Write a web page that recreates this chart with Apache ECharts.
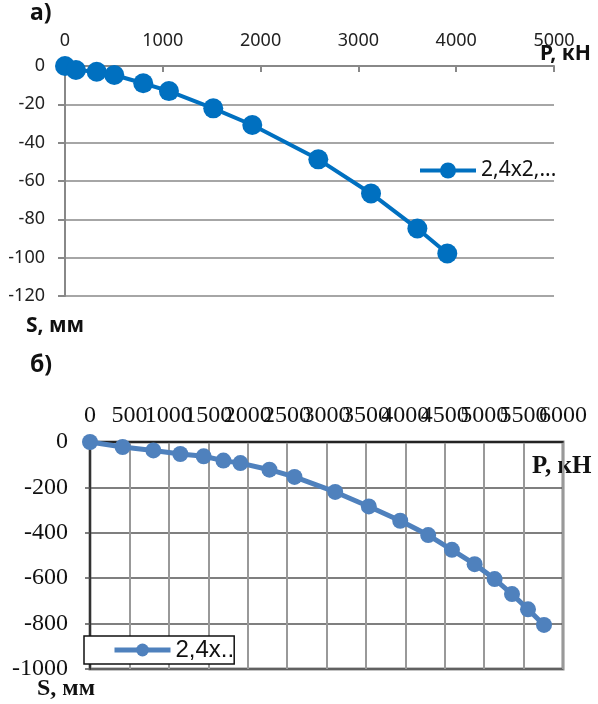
<!DOCTYPE html>
<html>
<head>
<meta charset="utf-8">
<script src="https://cdn.jsdelivr.net/npm/echarts@6/dist/echarts.min.js"></script>
<style>html,body{margin:0;padding:0;background:#fff}#c{width:598px;height:704px}</style>
</head>
<body>
<div id="c"></div>
<script>
// Chart a)
const topName = '2,4x2,...';
const topP = [0, 112, 324, 504, 800, 1063, 1516, 1915, 2590, 3129, 3603, 3909];
const topS = [0, -2.1, -3, -4.7, -9, -13.1, -22.1, -30.8, -48.7, -66.5, -84.8, -97.8];
// Chart б)
const botName = '2,4x..';
const botP = [0, 414, 804, 1146, 1442, 1692, 1908, 2276, 2594, 3110, 3537, 3935, 4290, 4591, 4879, 5133, 5353, 5556, 5759];
const botS = [0, -22, -37, -53, -63, -82, -93, -122, -154, -220, -284, -347, -410, -475, -538, -604, -670, -737, -806];

const topData = topP.map((p, i) => [p, topS[i]]);
const botData = botP.map((p, i) => [p, botS[i]]);

const sans = '"Noto Sans", "Open Sans", sans-serif';
const serif = '"Liberation Serif", "DejaVu Serif", serif';
const plain = v => String(v);

const chart = echarts.init(document.getElementById('c'), null, {renderer: 'canvas'});
chart.setOption({
  animation: false,
  backgroundColor: '#fff',
  grid: [
    {left: 65, top: 66, width: 489, height: 230, show: false},
    {left: 90, top: 442, width: 473, height: 227, show: true, borderColor: '#888', borderWidth: 3, backgroundColor: 'transparent'}
  ],
  xAxis: [
    {
      gridIndex: 0, type: 'value', position: 'top', min: 0, max: 5000, interval: 1000,
      axisLine: {show: true, onZero: false, lineStyle: {color: '#888', width: 2}},
      axisTick: {show: true, inside: true, length: 6, lineStyle: {color: '#888', width: 2}},
      splitLine: {show: false},
      axisLabel: {color: '#222', fontFamily: sans, fontSize: 18, margin: 16, formatter: plain, showMaxLabel: true}
    },
    {
      // thousands labels + axis line
      gridIndex: 1, type: 'value', position: 'top', min: 0, max: 6000, interval: 1000,
      axisLine: {show: true, onZero: false, lineStyle: {color: '#111', width: 1.5}},
      axisTick: {show: false},
      splitLine: {show: false},
      axisLabel: {color: '#111', fontFamily: serif, fontSize: 24, margin: 14, formatter: plain,
                  showMaxLabel: true, showMinLabel: true}
    },
    {
      // half-thousand labels + vertical grid
      gridIndex: 1, type: 'value', position: 'top', min: 0, max: 6000, interval: 500,
      axisLine: {show: false},
      axisTick: {show: false},
      splitLine: {show: true, lineStyle: {color: '#999', width: 2}},
      axisLabel: {color: '#111', fontFamily: serif, fontSize: 24, margin: 14,
                  formatter: v => (v % 1000 === 0 ? '' : String(v)), showMaxLabel: true, showMinLabel: true}
    }
  ],
  yAxis: [
    {
      gridIndex: 0, type: 'value', min: -120, max: 0, interval: 20,
      axisLine: {show: true, onZero: false, lineStyle: {color: '#888', width: 2}},
      axisTick: {show: true, length: 7, lineStyle: {color: '#888', width: 2}},
      splitLine: {show: true, lineStyle: {color: '#a6a6a6', width: 2}},
      axisLabel: {color: '#222', fontFamily: sans, fontSize: 18, margin: 20, formatter: plain}
    },
    {
      gridIndex: 1, type: 'value', min: -1000, max: 0, interval: 200,
      axisLine: {show: true, onZero: false, lineStyle: {color: '#111', width: 1.5}},
      axisTick: {show: true, length: 5, lineStyle: {color: '#555', width: 1.5}},
      splitLine: {show: true, lineStyle: {color: '#555', width: 1.5}},
      axisLabel: {color: '#111', fontFamily: serif, fontSize: 24, margin: 22, formatter: plain}
    }
  ],
  legend: [
    {
      data: [topName], left: 413, top: 155, itemWidth: 56, itemHeight: 20, itemGap: 4,
      lineStyle: {width: 4},
      textStyle: {fontFamily: sans, fontSize: 21, color: '#111'}
    },
    {
      data: [botName], left: 84, top: 636, itemWidth: 56, itemHeight: 16,
      lineStyle: {width: 5},
      padding: [2, 0, 2, 28], borderColor: '#111', borderWidth: 1.5, backgroundColor: '#fff',
      textStyle: {fontFamily: '"Liberation Sans", sans-serif', fontSize: 24, color: '#111'}
    }
  ],
  series: [
    {
      name: topName, type: 'line', xAxisIndex: 0, yAxisIndex: 0, data: topData,
      symbol: 'circle', symbolSize: 20, color: '#0070C0',
      lineStyle: {width: 4, color: '#0070C0'}, itemStyle: {color: '#0070C0'}
    },
    {
      name: botName, type: 'line', xAxisIndex: 1, yAxisIndex: 1, data: botData,
      symbol: 'circle', symbolSize: 16, color: '#4F81BD',
      lineStyle: {width: 5, color: '#4F81BD'}, itemStyle: {color: '#4F81BD'}
    }
  ],
  graphic: [
    {type: 'text', left: 30, top: 2, style: {text: 'а)', font: 'bold 23px "Noto Sans", sans-serif', fill: '#111'}},
    {type: 'text', left: 540, top: 44, style: {text: 'P, кН', font: 'bold 21px "Noto Sans", sans-serif', fill: '#111'}},
    {type: 'text', left: 26, top: 316, style: {text: 'S, мм', font: 'bold 21px "Noto Sans", sans-serif', fill: '#111'}},
    {type: 'text', left: 30, top: 354, style: {text: 'б)', font: 'bold 23px "Noto Sans", sans-serif', fill: '#111'}},
    {type: 'text', left: 532, top: 454, style: {text: 'P, кН', font: 'bold 25px "Liberation Serif", serif', fill: '#111'}},
    {type: 'text', left: 37, top: 677, style: {text: 'S, мм', font: 'bold 24px "Liberation Serif", serif', fill: '#111'}}
  ]
});
</script>
</body>
</html>
